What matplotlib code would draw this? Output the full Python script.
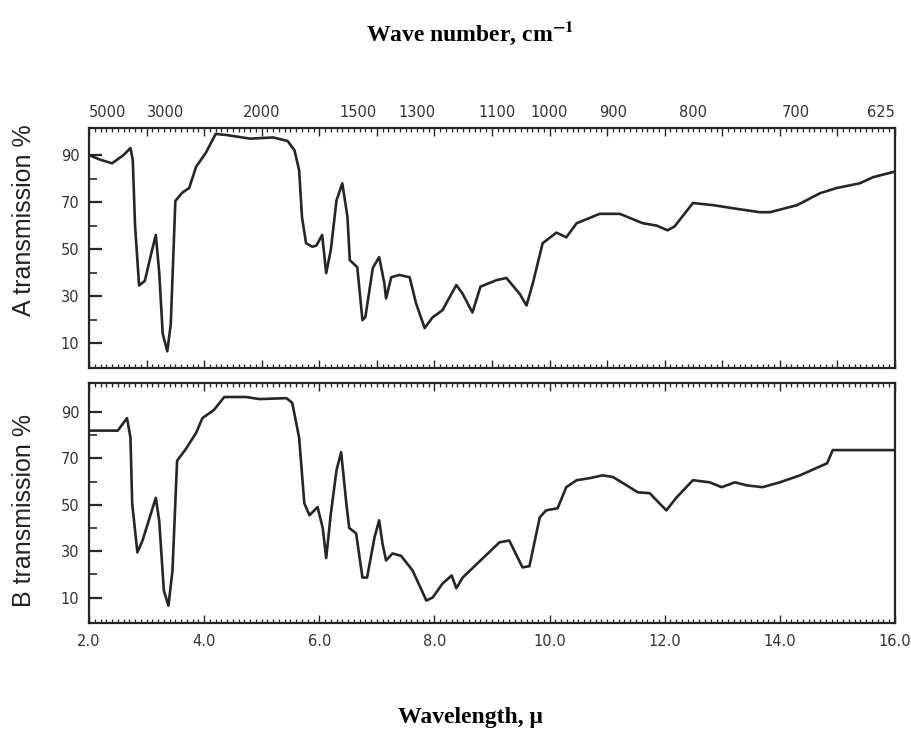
import numpy as np
import matplotlib
matplotlib.use("Agg")
import matplotlib.pyplot as plt
from matplotlib.ticker import MultipleLocator, FixedLocator

plt.rcParams['mathtext.fontset'] = 'stix'

# Wavelength (micron) and % transmission, sample A
lam_a = [2.0, 2.2, 2.4, 2.6, 2.72, 2.76, 2.80, 2.87, 2.97, 3.08, 3.16, 3.22, 3.28,
         3.36, 3.42, 3.50, 3.62, 3.74, 3.86, 4.03, 4.2, 4.4, 4.8, 5.2, 5.45, 5.57,
         5.65, 5.70, 5.77, 5.88, 5.95, 6.05, 6.12, 6.20, 6.30, 6.40, 6.49, 6.53,
         6.66, 6.75, 6.80, 6.93, 7.04, 7.13, 7.16, 7.25, 7.39, 7.57, 7.68, 7.83,
         7.97, 8.14, 8.38, 8.49, 8.66, 8.80, 9.08, 9.25, 9.48, 9.60, 9.71, 9.88,
         10.12, 10.29, 10.47, 10.87, 11.22, 11.62, 11.86, 12.05, 12.17, 12.49,
         12.84, 13.18, 13.65, 13.83, 14.30, 14.70, 14.99, 15.39, 15.62, 15.97]
trans_a = [90, 88, 86.5, 90, 93, 88, 60, 34.5, 36.5, 48, 56, 40, 14, 6.5, 18, 70.5,
           74, 76, 85, 91, 99, 98.5, 97, 97.5, 96, 92, 83.5, 63.5, 52.5, 51, 51.5,
           56, 39.8, 49.6, 70.8, 78, 63.6, 45.3, 42.3, 19.8, 21, 42, 46.6, 35.5,
           29, 38, 39, 38, 27, 16.4, 21, 24, 34.7, 31, 23, 34, 36.8, 37.7, 31, 26,
           35.5, 52.5, 57, 55, 61, 65, 65, 61, 60, 58, 59.6, 69.6, 68.7, 67.4,
           65.7, 65.7, 68.7, 73.8, 76, 78, 80.6, 82.8]

# Wavelength (micron) and % transmission, sample B
lam_b = [2.0, 2.5, 2.66, 2.72, 2.75, 2.84, 2.93, 3.16, 3.22, 3.30, 3.38, 3.45, 3.53,
         3.68, 3.86, 3.97, 4.17, 4.35, 4.73, 4.96, 5.43, 5.53, 5.65, 5.74, 5.83,
         5.97, 6.06, 6.12, 6.20, 6.30, 6.38, 6.47, 6.52, 6.64, 6.75, 6.83, 6.96,
         7.04, 7.10, 7.16, 7.27, 7.42, 7.62, 7.86, 7.97, 8.14, 8.30, 8.38, 8.49,
         8.78, 9.13, 9.30, 9.53, 9.65, 9.83, 9.94, 10.14, 10.29, 10.47, 10.70,
         10.92, 11.10, 11.34, 11.53, 11.74, 11.91, 12.03, 12.20, 12.49, 12.78,
         12.99, 13.22, 13.42, 13.70, 14.00, 14.35, 14.82, 14.92, 15.97]
trans_b = [82, 82, 87.4, 79, 50.6, 29.5, 34.6, 53, 43, 13, 6.5, 21.7, 69, 74, 81,
           87.4, 90.9, 96.5, 96.5, 95.6, 96, 94, 79, 50.6, 45.5, 49, 40, 27, 46, 65,
           72.7, 50.6, 40, 37.7, 18.6, 18.6, 36, 43.3, 33, 26, 29, 28, 21.7, 8.7,
           10, 16, 19.5, 14, 18.6, 25.5, 33.8, 34.6, 23, 23.5, 44.6, 47.6, 48.5,
           57.6, 60.6, 61.5, 62.7, 62, 58.4, 55.4, 55, 50.6, 47.6, 53, 60.6, 59.7,
           57.6, 59.7, 58.4, 57.6, 59.7, 62.7, 67.9, 73.6, 73.6]

wl_ticks = [2.0, 4.0, 6.0, 8.0, 10.0, 12.0, 14.0, 16.0]
wn_ticks = [5000, 3000, 2000, 1500, 1300, 1100, 1000, 900, 800, 700, 625]
y_ticks = [10, 30, 50, 70, 90]

INK = '#262626'
TICK_FONT = dict(family='DejaVu Sans', size=10.5, color='#333333')


def wl_to_wn(x):
    x = np.asarray(x, dtype=float)
    return 10000.0 / np.where(np.abs(x) < 1e-6, 1e-6, x)


def style_panel(ax, ylim):
    ax.set_xlim(2.0, 16.0)
    ax.set_ylim(*ylim)
    for s in ax.spines.values():
        s.set_linewidth(1.6)
        s.set_color(INK)
    ax.yaxis.set_major_locator(FixedLocator(y_ticks))
    ax.yaxis.set_minor_locator(FixedLocator([20, 40, 60, 80]))
    ax.xaxis.set_major_locator(MultipleLocator(1.0))
    ax.xaxis.set_minor_locator(MultipleLocator(0.1))
    ax.tick_params(axis='y', which='major', direction='in', length=9, width=1.6,
                   pad=7, left=True, right=False, colors=INK)
    ax.tick_params(axis='y', which='minor', direction='in', length=6, width=1.2,
                   left=True, right=False, colors=INK)
    ax.tick_params(axis='x', which='major', direction='in', length=6, width=1.0,
                   top=True, bottom=True, colors=INK)
    ax.tick_params(axis='x', which='minor', direction='in', length=3, width=0.9,
                   top=True, bottom=True, colors=INK)


fig = plt.figure(figsize=(9.11, 7.36), dpi=100)
axA = fig.add_axes([0.0977, 0.500, 0.8847, 0.326])
axB = fig.add_axes([0.0977, 0.1535, 0.8847, 0.326])

axA.plot(lam_a, trans_a, color=INK, lw=1.9, solid_joinstyle='round')
axB.plot(lam_b, trans_b, color=INK, lw=1.9, solid_joinstyle='round')

style_panel(axA, (-0.6, 101.5))
style_panel(axB, (-1.0, 102.5))

axA.set_yticklabels([str(v) for v in y_ticks], **TICK_FONT)
axB.set_yticklabels([str(v) for v in y_ticks], **TICK_FONT)
axA.tick_params(axis='x', labelbottom=False)

# wavelength labels under the lower panel
axB.set_xticks(wl_ticks, minor=False)
axB.xaxis.set_minor_locator(MultipleLocator(0.1))
axB.set_xticklabels([f"{v:.1f}" for v in wl_ticks], **TICK_FONT)
axB.tick_params(axis='x', which='major', pad=8)

# wavenumber scale above the upper panel
sec = axA.secondary_xaxis('top', functions=(wl_to_wn, wl_to_wn))
sec.set_xticks(wn_ticks)
wn_labels = sec.set_xticklabels([str(v) for v in wn_ticks], **TICK_FONT)
wn_labels[0].set_horizontalalignment('left')
wn_labels[-1].set_horizontalalignment('right')
sec.tick_params(axis='x', direction='in', length=0, pad=6)
sec.spines['top'].set_visible(False)

# axis titles
fig.text(0.516, 0.955, r'Wave number, cm$^{\mathbf{-1}}$', ha='center', va='center',
         family='Liberation Serif', weight='bold', size=17)
fig.text(0.516, 0.025, 'Wavelength, \u03bc', ha='center', va='center',
         family='Liberation Serif', weight='bold', size=17)
fig.text(0.026, 0.701, 'A transmission %', rotation=90, ha='center', va='center',
         family='Liberation Sans', size=18, color='#222222')
fig.text(0.026, 0.307, 'B transmission %', rotation=90, ha='center', va='center',
         family='Liberation Sans', size=18, color='#222222')

fig.savefig('out.png', dpi=100, facecolor='white')
